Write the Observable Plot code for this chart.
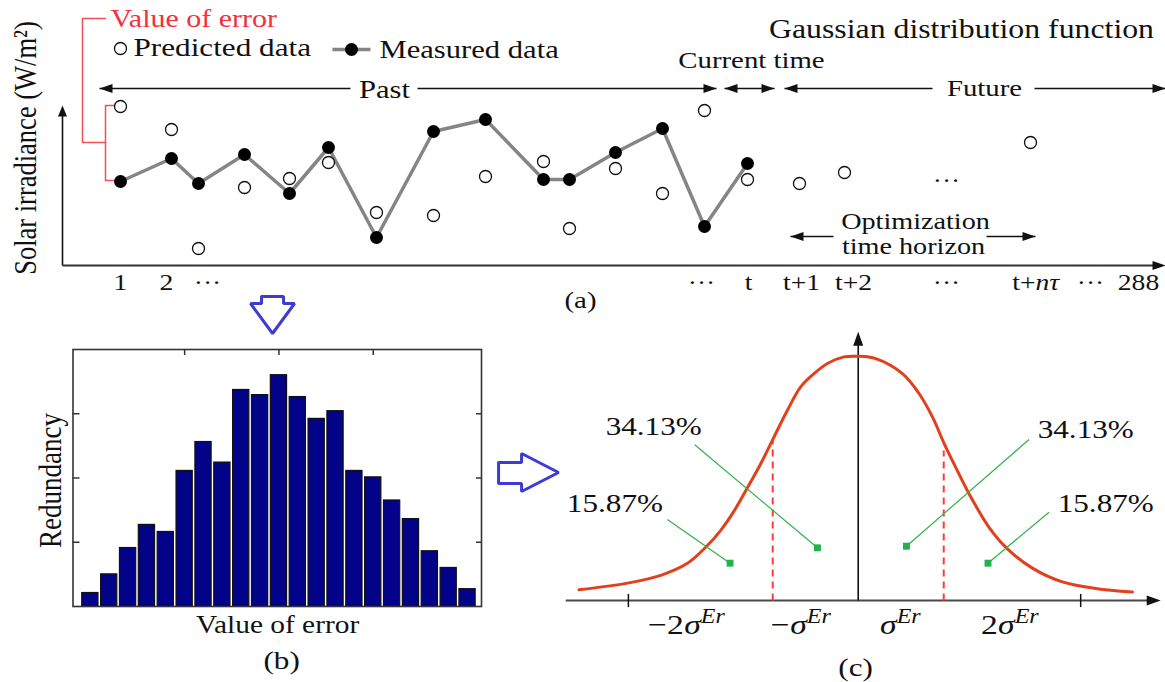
<!DOCTYPE html>
<html>
<head>
<meta charset="utf-8">
<script src="https://cdn.jsdelivr.net/npm/d3@7"></script>
<script src="https://cdn.jsdelivr.net/npm/@observablehq/plot@0.6"></script>
<style>
  body { margin: 0; background: #fff; }
  #fig { position: relative; width: 1165px; height: 682px; overflow: hidden; background: #fff; }
</style>
</head>
<body>
<div id="fig"></div>
<script>
// ===== Panel (a): solar irradiance vs time (positions and irradiance in arbitrary units) =====
const timePos        = [5.8, 10.9, 13.6, 18.2, 22.7, 26.6, 31.4, 37.1, 42.3, 48.1, 50.7, 55.3, 60.0, 64.2, 68.5];
const measured       = [42, 53.5, 41, 55.5, 36, 59, 14, 67, 73, 43, 43, 56.5, 68.5, 19.5, 51];
const predictedPast  = [79.5, 68, 8.5, 39, 43.5, 51.5, 26.5, 25, 44.5, 52, 18.5, 48.5, 36, 77.5, 43];
const futurePos      = [73.7, 78.2, 96.8];
const predictedFuture= [41, 46.5, 61.5];
const timeTickLabels = ["1", "2", "···", "···", "t", "t+1", "t+2", "···", "t+nτ", "···", "288"];
const timeTickPos    = [5.8, 10.4, 14.5, 63.9, 68.6, 73.9, 79.1, 88.4, 97.3, 102.8, 107.6];

// ===== Panel (b): histogram of forecast error =====
const errorBins  = [1, 2, 3, 4, 5, 6, 7, 8, 9, 10, 11, 12, 13, 14, 15, 16, 17, 18, 19, 20, 21];
const redundancy = [2.1, 5.0, 9.1, 12.7, 11.6, 21.1, 25.6, 22.4, 33.7, 32.9, 36.0, 32.6, 29.2, 30.4, 21.1, 20.1, 16.5, 13.6, 8.6, 6.0, 2.7];
const redundancyTicks = [10, 20, 30];
const errorTicks = [6, 11, 16];

// ===== Panel (c): Gaussian distribution curve (x in sigma units) =====
const curveX = [-3.266, -2.699, -2.310, -1.998, -1.775, -1.608, -1.453, -1.296, -1.140, -1.004, -0.828, -0.673, -0.517, -0.360, -0.166, 0,
                0.205, 0.517, 0.711, 0.868, 1.004, 1.140, 1.296, 1.530, 1.745, 2.037, 2.388, 2.778, 3.207];
const curveY = [0.018, 0.029, 0.042, 0.062, 0.090, 0.117, 0.149, 0.188, 0.228, 0.267, 0.317, 0.356, 0.378, 0.395, 0.406, 0.407,
                0.403, 0.378, 0.345, 0.306, 0.262, 0.222, 0.178, 0.122, 0.086, 0.054, 0.031, 0.020, 0.014];
const sigmaLines = [-1, 1];
const sigmaLineTop = [0.267, 0.25];
const axisTicksC = [-2.688, 2.602];
const percentLabels = ["15.87%", "34.13%", "34.13%", "15.87%"];
const sigmaPrefix = ["−2", "−", "", "2"];
const sigmaLabelPos = [-1.842, -0.602, 0.45, 1.83];

// ---------- helpers ----------
const serif = "'Liberation Serif','Times New Roman',serif";
const baseStyle = {background: "transparent", fontFamily: serif, overflow: "visible"};
function head(dir, L = 13, W = 9) {
  const p = {
    r: [[0, 0], [-L, -W / 2], [-L, W / 2]],
    l: [[0, 0], [L, -W / 2], [L, W / 2]],
    u: [[0, 0], [-W / 2, L], [W / 2, L]]
  }[dir];
  return {draw(ctx) { ctx.moveTo(...p[0]); ctx.lineTo(...p[1]); ctx.lineTo(...p[2]); ctx.closePath(); }};
}
function stretchText(svg, sx = 1.2) {
  svg.querySelectorAll("text").forEach(t => {
    const tr = t.getAttribute("transform");
    if (tr == null) return;
    t.setAttribute("transform", tr + (tr.includes("rotate") ? ` scale(1,${sx})` : ` scale(${sx},1)`));
  });
}
const fig = document.getElementById("fig");
function place(svg, left, top) {
  svg.style.position = "absolute";
  svg.style.left = left + "px";
  svg.style.top = top + "px";
  stretchText(svg);
  fig.appendChild(svg);
}

// ---------- Panel (a) ----------
const pastRows = timePos.map((t, i) => ({t, measured: measured[i], predicted: predictedPast[i]}));
const futureRows = futurePos.map((t, i) => ({t, predicted: predictedFuture[i]}));
const tickRows = timeTickPos.map((x, i) => ({x, label: timeTickLabels[i]}));
const plainTicks = tickRows.filter(d => !d.label.includes("nτ"));
const mathTicks = tickRows.filter(d => d.label.includes("nτ"));

const arrowSegs = [
  {x1: 3.7, x2: 28.8, y: 88.5}, {x1: 35.5, x2: 65.4, y: 88.5},
  {x1: 66.2, x2: 71.2, y: 88.5},
  {x1: 72.2, x2: 87.0, y: 88.5}, {x1: 97.2, x2: 110.3, y: 88.5},
  {x1: 72.8, x2: 77.1, y: 14.5}, {x1: 92.4, x2: 97.3, y: 14.5}
];
const leftTips = [{x: 3.7, y: 88.5}, {x: 66.2, y: 88.5}, {x: 72.2, y: 88.5}, {x: 72.8, y: 14.5}];
const rightTips = [{x: 65.4, y: 88.5}, {x: 71.2, y: 88.5}, {x: 110.3, y: 88.5}, {x: 97.3, y: 14.5}, {x: 110.3, y: 0}];
const bracket = [
  {g: 1, x: 4.3, y: 123.5}, {g: 1, x: 2.0, y: 123.5}, {g: 1, x: 2.0, y: 61.5}, {g: 1, x: 4.3, y: 61.5},
  {g: 2, x: 5.1, y: 80}, {g: 2, x: 4.3, y: 80}, {g: 2, x: 4.3, y: 42.5}, {g: 2, x: 5.1, y: 42.5}
];

const plotA = Plot.plot({
  width: 1165, height: 300, marginLeft: 62, marginRight: 0, marginTop: 0, marginBottom: 35,
  x: {domain: [0, 110.3], axis: null},
  y: {domain: [0, 132.5], axis: null},
  style: baseStyle,
  marks: [
    // axes
    Plot.link([{x1: 0, x2: 0, y1: 0, y2: 78}], {x1: "x1", x2: "x2", y1: "y1", y2: "y2", stroke: "#111", strokeWidth: 1.6}),
    Plot.link([{x1: 0, x2: 109.5, y1: 0, y2: 0}], {x1: "x1", x2: "x2", y1: "y1", y2: "y2", stroke: "#333", strokeWidth: 2}),
    Plot.dot([{x: 0, y: 80}], {x: "x", y: "y", symbol: head("u", 11, 9), fill: "#111"}),
    // timeline arrows
    Plot.link(arrowSegs, {x1: "x1", x2: "x2", y1: "y", y2: "y", stroke: "#111", strokeWidth: 1.5}),
    Plot.dot(leftTips, {x: "x", y: "y", symbol: head("l"), fill: "#111"}),
    Plot.dot(rightTips, {x: "x", y: "y", symbol: head("r"), fill: "#111"}),
    // error bracket
    Plot.line(bracket, {x: "x", y: "y", z: "g", stroke: "#f0505a", strokeWidth: 1.5}),
    // measured series
    Plot.line(pastRows, {x: "t", y: "measured", stroke: "#858585", strokeWidth: 3.5}),
    Plot.dot([...pastRows, ...futureRows], {x: "t", y: "predicted", r: 6, fill: "white", stroke: "#111", strokeWidth: 1.3}),
    Plot.dot(pastRows, {x: "t", y: "measured", r: 6.5, fill: "#000"}),
    // legend
    Plot.dot([{x: 5.8, y: 108.5}], {x: "x", y: "y", r: 6, fill: "white", stroke: "#111", strokeWidth: 1.3}),
    Plot.link([{x1: 27, x2: 30.8, y: 108}], {x1: "x1", x2: "x2", y1: "y", y2: "y", stroke: "#858585", strokeWidth: 3.5}),
    Plot.dot([{x: 28.9, y: 108}], {x: "x", y: "y", r: 6.5, fill: "#000"}),
    Plot.text(["Predicted data"], {x: 7.1, y: 105, textAnchor: "start", lineAnchor: "bottom", fontSize: 26, fill: "#111"}),
    Plot.text(["Measured data"], {x: 31.7, y: 104, textAnchor: "start", lineAnchor: "bottom", fontSize: 25.5, fill: "#111"}),
    Plot.text(["Value of error"], {x: 4.8, y: 119.5, textAnchor: "start", lineAnchor: "bottom", fontSize: 25, fill: "#f5303c"}),
    // annotations
    Plot.text(["Past"], {x: 32.2, y: 84, lineAnchor: "bottom", fontSize: 25.5, fill: "#111"}),
    Plot.text(["Current time"], {x: 68.9, y: 99, lineAnchor: "bottom", fontSize: 24, fill: "#111"}),
    Plot.text(["Future"], {x: 92.2, y: 85, lineAnchor: "bottom", fontSize: 24, fill: "#111"}),
    Plot.text(["Gaussian distribution function"], {x: 89.9, y: 114, lineAnchor: "bottom", fontSize: 26.5, fill: "#111"}),
    Plot.text(["Optimization"], {x: 85.3, y: 18.5, lineAnchor: "bottom", fontSize: 23.5, fill: "#111"}),
    Plot.text(["time horizon"], {x: 85.1, y: 6, lineAnchor: "bottom", fontSize: 23.5, fill: "#111"}),
    Plot.text(["···"], {x: 88.4, y: 42.5, fontSize: 23, fill: "#111"}),
    // tick labels
    Plot.text(plainTicks, {x: "x", y: -12, text: "label", lineAnchor: "bottom", fontSize: 23, fill: "#111"}),
    Plot.text(mathTicks, {x: "x", y: -12, text: d => d.label.replace("nτ", ""), textAnchor: "end", lineAnchor: "bottom", fontSize: 23, fill: "#111"}),
    Plot.text(mathTicks, {x: "x", y: -12, text: () => "nτ", textAnchor: "start", lineAnchor: "bottom", fontSize: 23, fontStyle: "italic", fill: "#111"}),
    Plot.text(["(a)"], {x: 51.8, y: -21, lineAnchor: "bottom", fontSize: 24, fill: "#111"}),
    Plot.text(["Solar irradiance (W/m²)"], {x: -3.7, y: 58.75, rotate: -90, fontSize: 26.5, fill: "#111"})
  ]
});
place(plotA, 0, 0);

// ---------- Panel (b) ----------
const histRows = errorBins.map((b, i) => ({b, v: redundancy[i]}));
const blueArrows = [
  {g: 1, x: 10.077, y: 48.25}, {g: 1, x: 11.244, y: 48.25}, {g: 1, x: 11.244, y: 47.16}, {g: 1, x: 11.827, y: 47.16},
  {g: 1, x: 10.661, y: 42.49}, {g: 1, x: 9.494, y: 47.16}, {g: 1, x: 10.077, y: 47.16}, {g: 1, x: 10.077, y: 48.25},
  {g: 2, x: 22.644, y: 22.41}, {g: 2, x: 23.864, y: 22.41}, {g: 2, x: 23.864, y: 23.81}, {g: 2, x: 25.826, y: 20.86},
  {g: 2, x: 23.864, y: 17.90}, {g: 2, x: 23.864, y: 19.14}, {g: 2, x: 22.644, y: 19.14}, {g: 2, x: 22.644, y: 22.41}
];
const plotB = Plot.plot({
  width: 565, height: 392, marginLeft: 72.5, marginRight: 84, marginTop: 59, marginBottom: 76,
  x: {domain: [0.08, 21.74], axis: null},
  y: {domain: [0, 40], axis: null},
  style: baseStyle,
  marks: [
    Plot.rectY(histRows, {x1: d => d.b - 0.43, x2: d => d.b + 0.43, y1: 0, y2: "v", fill: "#03038a", stroke: "#111", strokeWidth: 1.2}),
    Plot.frame({stroke: "#333", strokeWidth: 1.6}),
    Plot.axisY(redundancyTicks, {anchor: "left", tickSize: -7, tickFormat: () => "", label: null, stroke: "#333", strokeWidth: 1.5}),
    Plot.axisY(redundancyTicks, {anchor: "right", tickSize: -6, tickFormat: () => "", label: null, stroke: "#333", strokeWidth: 1.5}),
    Plot.axisX(errorTicks, {anchor: "top", tickSize: -5, tickFormat: () => "", label: null, stroke: "#333", strokeWidth: 1.5}),
    Plot.line(blueArrows, {x: "x", y: "y", z: "g", stroke: "#3c3cd4", strokeWidth: 3, strokeLinejoin: "miter"}),
    Plot.text(["Redundancy"], {x: -1.11, y: 19.6, rotate: -90, fontSize: 27, fill: "#111"}),
    Plot.text(["Value of error"], {x: 10.93, y: -4.05, lineAnchor: "bottom", fontSize: 24.5, fill: "#111"}),
    Plot.text(["(b)"], {x: 11.14, y: -9.65, lineAnchor: "bottom", fontSize: 26, fill: "#111"})
  ]
});
place(plotB, 0, 290);

// ---------- Panel (c) ----------
const curveRows = curveX.map((x, i) => ({x, y: curveY[i]}));
const sigmaRows = sigmaLines.map((x, i) => ({x, top: sigmaLineTop[i]}));
const leaders = [
  {x1: -2.232, y1: 0.135, x2: -1.499, y2: 0.0622},
  {x1: -1.912, y1: 0.2595, x2: -0.477, y2: 0.0878},
  {x1: 1.998, y1: 0.2683, x2: 0.564, y2: 0.0905},
  {x1: 2.232, y1: 0.1472, x2: 1.518, y2: 0.0622}
];
const pctRows = percentLabels.map((label, i) => ({label, x: [-2.846, -2.392, 2.661, 2.895][i], y: [0.148, 0.276, 0.2705, 0.148][i]}));
const sigmaLabRows = sigmaPrefix.map((pre, i) => ({pre, x: sigmaLabelPos[i]}));

const plotC = Plot.plot({
  width: 625, height: 382, marginLeft: 0, marginRight: 0, marginTop: 0, marginBottom: 82,
  x: {domain: [-3.716, 3.594], axis: null},
  y: {domain: [0, 0.5], axis: null},
  style: baseStyle,
  marks: [
    Plot.link([{x1: -3.421, x2: 3.45, y: 0}], {x1: "x1", x2: "x2", y1: "y", y2: "y", stroke: "#4a4a4a", strokeWidth: 2}),
    Plot.link([{x: 0, y1: 0, y2: 0.43}], {x1: "x", x2: "x", y1: "y1", y2: "y2", stroke: "#111", strokeWidth: 1.6}),
    Plot.dot([{x: 3.538, y: 0}], {x: "x", y: "y", symbol: head("r", 14, 10), fill: "#111"}),
    Plot.dot([{x: 0, y: 0.448}], {x: "x", y: "y", symbol: head("u", 14, 10), fill: "#111"}),
    Plot.link(axisTicksC, {x1: d => d, x2: d => d, y1: -0.011, y2: 0.011, stroke: "#111", strokeWidth: 1.5}),
    Plot.link(sigmaRows, {x1: "x", x2: "x", y1: 0, y2: "top", stroke: "#ff3c3c", strokeWidth: 2, strokeDasharray: "7,5"}),
    Plot.line(curveRows, {x: "x", y: "y", curve: "catmull-rom", stroke: "#e2401c", strokeWidth: 3}),
    Plot.link(leaders, {x1: "x1", y1: "y1", x2: "x2", y2: "y2", stroke: "#2fb34a", strokeWidth: 1.2}),
    Plot.dot(leaders, {x: "x2", y: "y2", symbol: "square", r: 3.9, fill: "#22b14c"}),
    Plot.text(pctRows, {x: "x", y: "y", text: "label", lineAnchor: "bottom", fontSize: 26, fill: "#111"}),
    Plot.text(sigmaLabRows, {x: "x", y: -0.055, text: "pre", textAnchor: "end", lineAnchor: "bottom", dx: -17, fontSize: 28, fill: "#111"}),
    Plot.text(sigmaLabRows, {x: "x", y: -0.055, text: () => "σ", textAnchor: "end", lineAnchor: "bottom", fontSize: 28, fontStyle: "italic", fill: "#111"}),
    Plot.text(sigmaLabRows, {x: "x", y: -0.038, text: () => "Er", textAnchor: "start", lineAnchor: "bottom", fontSize: 20, fontStyle: "italic", fill: "#111"}),
    Plot.text(["(c)"], {x: -0.03, y: -0.125, lineAnchor: "bottom", fontSize: 26, fill: "#111"})
  ]
});
place(plotC, 540, 300);
</script>
</body>
</html>
